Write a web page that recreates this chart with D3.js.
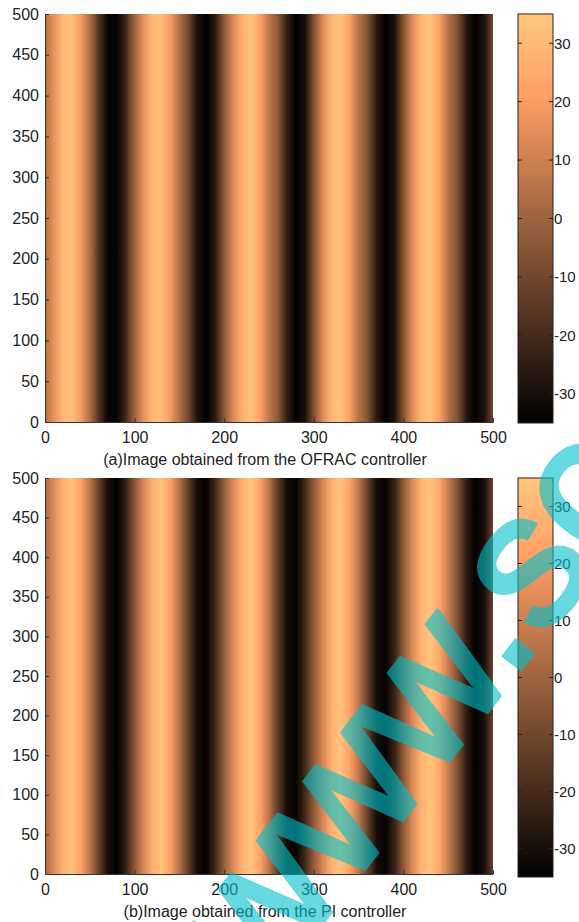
<!DOCTYPE html>
<html>
<head>
  <meta charset='utf-8'>
  <title>OFRAC vs PI images</title>
  <script src='https://cdn.jsdelivr.net/npm/d3@7/dist/d3.min.js'></script>
  <style type='text/css'>
    body { margin: 0; background: #fff; }
    svg { display: block; }
    text { font-family: 'Liberation Sans', Arial, sans-serif; fill: #222; }
  </style>
</head>
<body>
  <div id='plot-container'></div>
  <script>
    // column position (pixel index of the 500x500 image) and value of each column
    const columnX = d3.range(0, 501, 10);
    const ofracValues = [
      4, 16, 30, 32, 19, 4, -17, -33, -34, -21,
      0, 16, 30, 32, 19, 4, -10, -29, -35, -26,
      -4, 13, 27, 33, 22, 7, -4, -24, -35, -30,
      -7, 14, 29, 33, 21, 5, -6, -26, -35, -29,
      -6, 14, 29, 33, 21, 5, -6, -26, -35, -29,
      -10
    ];
    const piValues = [
      2, 14, 27, 33, 22, 7, -12, -30, -35, -24,
      -4, 12, 27, 33, 21, 5, -14, -31, -34, -21,
      -2, 13, 28, 34, 22, 6, -14, -31, -34, -21,
      -3, 12, 27, 34, 22, 7, -12, -30, -34, -23,
      -4, 13, 28, 34, 24, 9, -6, -24, -35, -30,
      -12
    ];
    const axisTicks = [0, 100, 200, 300, 400, 500];
    const rowTicks = [0, 50, 100, 150, 200, 250, 300, 350, 400, 450, 500];
    const barTicks = [-30, -20, -10, 0, 10, 20, 30];
    const captions = [
      '(a)Image obtained from the OFRAC controller',
      '(b)Image obtained from the PI controller'
    ];

    const W = 579, H = 922;
    const svg = d3.select('#plot-container').append('svg')
        .attr('width', W).attr('height', H);
    const defs = svg.append('defs');

    // matlab "copper" colormap
    const copper = t => d3.rgb(255 * Math.min(1, 1.25 * t), 255 * 0.7812 * t, 255 * 0.4975 * t);
    const color = d3.scaleSequential(copper).domain([-35, 35]);

    const panels = [
      { id: 'a', values: ofracValues, top: 14, bottom: 422, barBottom: 423, caption: captions[0] },
      { id: 'b', values: piValues, top: 478, bottom: 874, barBottom: 877, caption: captions[1] }
    ];

    panels.forEach(p => {
      const x = d3.scaleLinear().domain([0, 500]).range([45, 493]);
      const y = d3.scaleLinear().domain([0, 500]).range([p.bottom, p.top]);
      const g = svg.append('g');

      // image: horizontal gradient through the column values
      const grad = defs.append('linearGradient').attr('id', 'img-' + p.id)
          .attr('x1', 0).attr('x2', 1).attr('y1', 0).attr('y2', 0);
      grad.selectAll('stop').data(p.values).join('stop')
          .attr('offset', (d, i) => (x(columnX[i]) - x(0)) / (x(500) - x(0)))
          .attr('stop-color', d => color(d));
      g.append('rect')
          .attr('x', x(0)).attr('y', y(500))
          .attr('width', x(500) - x(0)).attr('height', y(0) - y(500))
          .attr('fill', `url(#img-${p.id})`);

      // axes, matlab style ticks pointing inward
      const xAxis = g.append('g').attr('transform', `translate(0,${p.bottom})`)
          .call(d3.axisBottom(x).tickValues(axisTicks).tickSizeInner(-4).tickSizeOuter(0).tickPadding(10));
      const yAxis = g.append('g').attr('transform', `translate(${x(0)},0)`)
          .call(d3.axisLeft(y).tickValues(rowTicks).tickSizeInner(-4).tickSizeOuter(0).tickPadding(6));
      [xAxis, yAxis].forEach(a => {
        a.select('.domain').attr('stroke', '#333');
        a.selectAll('.tick line').attr('stroke', '#333');
        a.selectAll('.tick text').attr('font-size', 16).attr('fill', '#222')
            .attr('font-family', "'Liberation Sans', Arial, sans-serif");
      });

      g.append('text')
          .attr('x', 265).attr('y', p.bottom + 43)
          .attr('text-anchor', 'middle').attr('font-size', 16)
          .text(p.caption);

      // colorbar
      const cb = d3.scaleLinear().domain([-35, 35]).range([p.barBottom, p.top]);
      const cbx0 = 518, cbx1 = 553;
      const cgrad = defs.append('linearGradient').attr('id', 'cb-' + p.id)
          .attr('x1', 0).attr('x2', 0).attr('y1', 1).attr('y2', 0);
      cgrad.selectAll('stop').data([0, 0.25, 0.5, 0.75, 0.8, 1]).join('stop')
          .attr('offset', d => d)
          .attr('stop-color', d => copper(d));
      g.append('rect')
          .attr('x', cbx0).attr('y', p.top)
          .attr('width', cbx1 - cbx0).attr('height', p.barBottom - p.top)
          .attr('fill', `url(#cb-${p.id})`)
          .attr('stroke', '#222').attr('stroke-width', 1);
      const tk = g.append('g');
      tk.selectAll('line.l').data(barTicks).join('line').attr('class', 'l')
          .attr('x1', cbx0).attr('x2', cbx0 + 4)
          .attr('y1', d => cb(d)).attr('y2', d => cb(d)).attr('stroke', '#222');
      tk.selectAll('line.r').data(barTicks).join('line').attr('class', 'r')
          .attr('x1', cbx1 - 4).attr('x2', cbx1)
          .attr('y1', d => cb(d)).attr('y2', d => cb(d)).attr('stroke', '#222');
      tk.selectAll('text').data(barTicks).join('text')
          .attr('x', cbx1 + 1).attr('y', d => cb(d)).attr('dy', '0.36em')
          .attr('font-size', 15)
          .text(d => d);
    });

    // watermark
    svg.append('text')
        .attr('transform', 'translate(263,998) rotate(-52)')
        .attr('font-size', 190)
        .style('fill', 'rgb(0,192,202)')
        .style('stroke', 'rgb(0,192,202)')
        .style('stroke-width', 5)
        .style('opacity', 0.6)
        .text('www.sc');
  </script>
</body>
</html>
